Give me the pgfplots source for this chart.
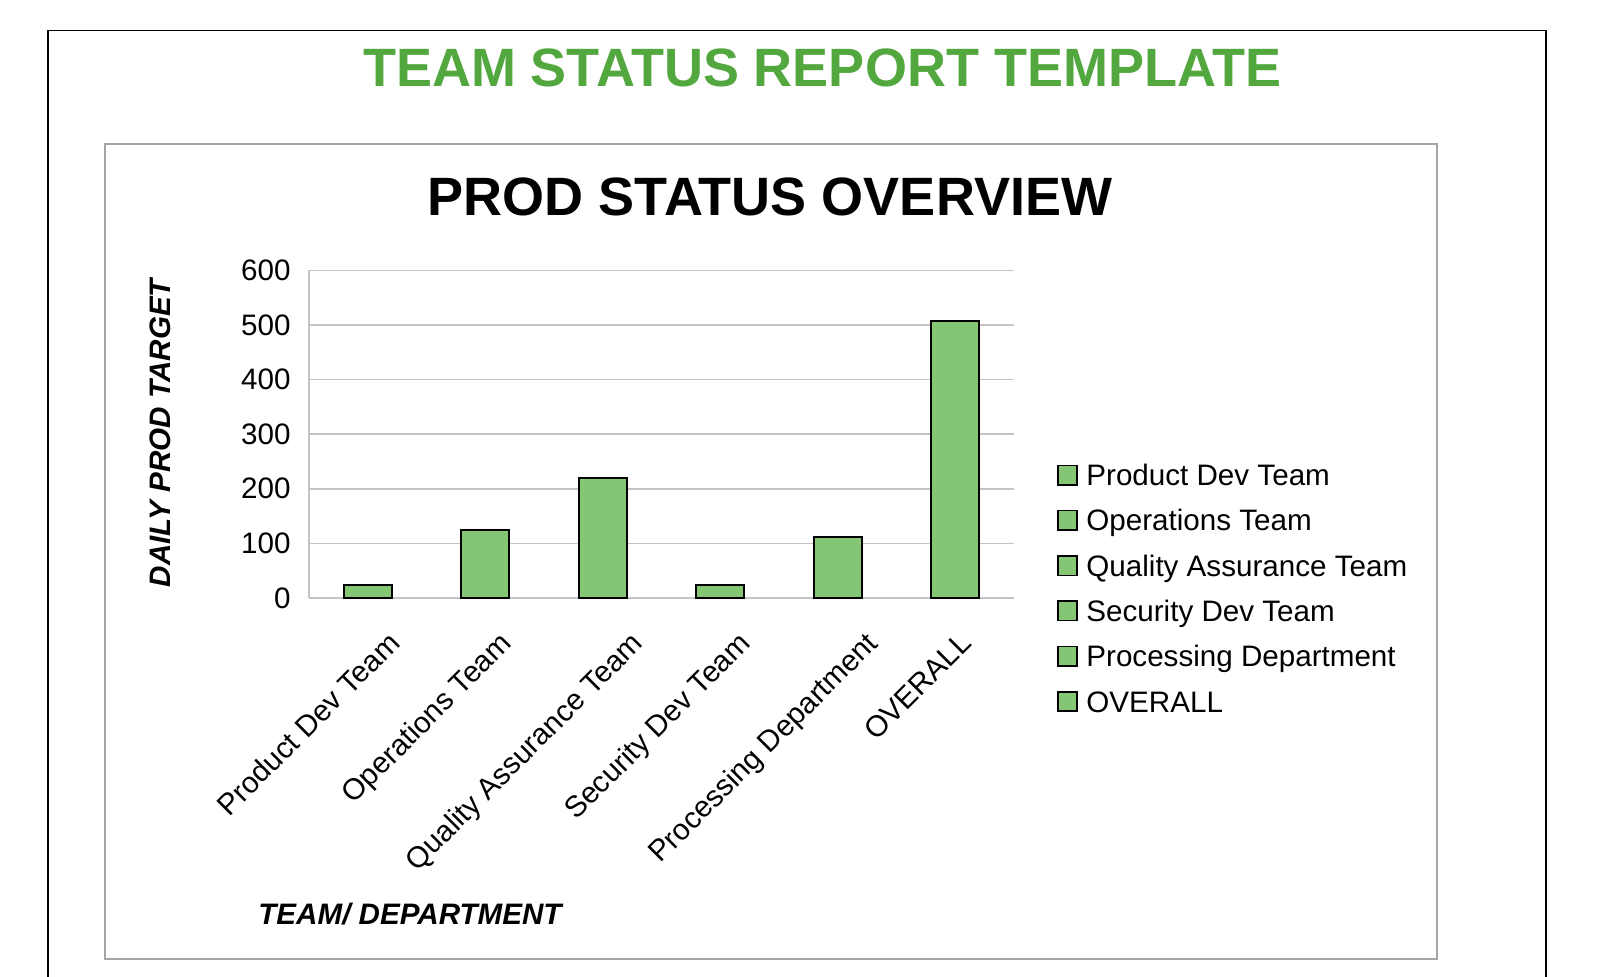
\documentclass[border=0pt]{standalone}
\usepackage{pgfplots}
\pgfplotsset{compat=1.18}
\usepackage{fontspec}
\setmainfont{Liberation Sans}

\definecolor{barfill}{HTML}{85C674}
\definecolor{titlegreen}{HTML}{52A83F}
\definecolor{gridgray}{HTML}{C4C4C4}
\definecolor{framegray}{HTML}{A6A6A6}

\pgfplotsset{
  sqlegend/.style={legend image code/.code={%
      \draw[##1,line width=0.8pt] (0pt,-4.85pt) rectangle (9.7pt,4.85pt);}},
}
% nudge a rotated tick label sideways (moves it along the page x direction)
\newcommand{\nudge}[2]{\raisebox{-#1}{#2}\hspace*{-#1}}

\begin{document}
\begin{tikzpicture}
% page frame, titles and axis titles laid out in pixels of the reference
\begin{scope}[x=0.5pt,y=-0.5pt]
  \useasboundingbox (0,0) rectangle (1600,977);
  \fill[white] (0,0) rectangle (1600,977);
  \draw[black,line width=0.75pt] (48,1000) -- (48,30.5) -- (1546,30.5) -- (1546,1000);
  \draw[framegray,line width=0.6pt] (105,144) rectangle (1437,959);
  \node[inner sep=0pt,text=titlegreen,font=\fontsize{27}{30}\selectfont\bfseries]
    at (822,68) {TEAM STATUS REPORT TEMPLATE};
  \node[inner sep=0pt,font=\fontsize{27}{30}\selectfont\bfseries]
    at (770,197) {PROD STATUS OVERVIEW};
  \node[inner sep=0pt,rotate=90,font=\fontsize{14.8}{17}\selectfont\bfseries\itshape]
    at (160,433) {DAILY PROD TARGET};
  \node[inner sep=0pt,anchor=base west,font=\fontsize{14.8}{17}\selectfont\bfseries\itshape]
    at (258,924) {TEAM/ DEPARTMENT};
\end{scope}

\begin{axis}[
    at={(154.5pt,-299pt)}, anchor=south west,
    width=352.5pt, height=163.8pt, scale only axis,
    ybar, bar width=24pt,
    xmin=-0.5, xmax=5.5, ymin=0, ymax=600,
    enlargelimits=false,
    xtick=data,
    xticklabels={\nudge{4.6pt}{Product Dev Team},\nudge{2.5pt}{Operations Team},
      \nudge{7.4pt}{Quality Assurance Team},\nudge{3.9pt}{Security Dev Team},
      \nudge{7.4pt}{Processing Department},\nudge{-1.1pt}{OVERALL}},
    ytick={0,100,...,600},
    axis x line=bottom, axis y line=left,
    axis line style={draw=gridgray,line width=0.8pt,-},
    ymajorgrids, grid style={draw=gridgray,line width=0.8pt},
    major tick length=0pt,
    tick label style={font=\fontsize{14.8}{17}\selectfont},
    /pgf/number format/assume math mode=true,
    yticklabel style={anchor=east,inner sep=0pt,xshift=-9pt},
    xticklabel style={inner sep=0pt,text height=10.6pt,text depth=3pt,
      anchor=east,xshift=7.8pt,yshift=-20.8pt,rotate=45},
    legend cell align=left,
    legend style={at={(axis description cs:1.061,0.4212)}, anchor=north west,
      draw=none, fill=none, inner sep=0pt, outer sep=0pt,
      font=\fontsize{14.8}{17}\selectfont, row sep=7.65pt,
      nodes={inner sep=0pt,text height=12.8pt,text depth=2.2pt},
      /tikz/every odd column/.append style={column sep=4.2pt}},
  ]
  \addplot[fill=barfill,draw=black,line width=0.9pt,sqlegend]
    coordinates {(0,24) (1,125) (2,220) (3,24) (4,111) (5,508)};
  \addlegendentry{Product Dev Team}
  \addlegendimage{fill=barfill,draw=black,sqlegend}
  \addlegendentry{Operations Team}
  \addlegendimage{fill=barfill,draw=black,sqlegend}
  \addlegendentry{Quality Assurance Team}
  \addlegendimage{fill=barfill,draw=black,sqlegend}
  \addlegendentry{Security Dev Team}
  \addlegendimage{fill=barfill,draw=black,sqlegend}
  \addlegendentry{Processing Department}
  \addlegendimage{fill=barfill,draw=black,sqlegend}
  \addlegendentry{OVERALL}
\end{axis}
\end{tikzpicture}
\end{document}
